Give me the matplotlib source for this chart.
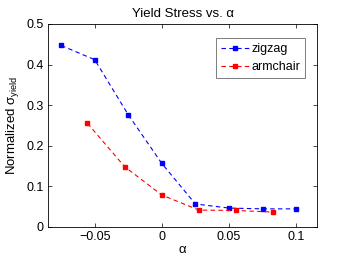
import matplotlib
matplotlib.use("Agg")
import matplotlib.pyplot as plt

plt.rcParams['font.family'] = ['Liberation Sans', 'DejaVu Sans']
plt.rcParams['mathtext.fontset'] = 'custom'
plt.rcParams['mathtext.rm'] = 'Liberation Sans'
plt.rcParams['mathtext.it'] = 'Liberation Sans:italic'

zigzag_x = [-0.075, -0.05, -0.025, 0.0, 0.025, 0.05, 0.075, 0.1]
zigzag_y = [0.447, 0.412, 0.276, 0.156, 0.056, 0.046, 0.044, 0.044]
armchair_x = [-0.0554, -0.0277, 0.0, 0.0277, 0.0554, 0.0831]
armchair_y = [0.255, 0.148, 0.078, 0.041, 0.040, 0.036]
xticks = [-0.05, 0, 0.05, 0.1]
xtick_labels = ['\u22120.05', '0', '0.05', '0.1']
yticks = [0, 0.1, 0.2, 0.3, 0.4, 0.5]
ytick_labels = ['0', '0.1', '0.2', '0.3', '0.4', '0.5']

fig = plt.figure(figsize=(3.5, 2.59), dpi=100)
ax = fig.add_axes([48/350, 1-226.7/259, (317-48)/350, (226.7-24)/259])

ax.plot(zigzag_x, zigzag_y, linestyle=(0, (4, 3)), color='#0000ff', lw=0.8,
        marker='s', markersize=3.5, label='zigzag')
ax.plot(armchair_x, armchair_y, linestyle=(0, (4, 3)), color='#ff0000', lw=0.8,
        marker='s', markersize=3.5, label='armchair')

ax.set_xlim(-0.0848, 0.1156)
ax.set_ylim(0, 0.5)
ax.set_xticks(xticks)
ax.set_xticklabels(xtick_labels)
ax.set_yticks(yticks)
ax.set_yticklabels(ytick_labels)
ax.tick_params(direction='in', top=True, right=True, labelsize=9, length=3, width=0.5, pad=3)
for s in ax.spines.values():
    s.set_linewidth(0.6)

ax.set_title('Yield Stress vs. \u03b1', fontsize=9.5, pad=5)
ax.set_xlabel('\u03b1', fontsize=9.5, labelpad=1)
ax.set_ylabel('Normalized \u03c3$_{\\mathrm{yield}}$', fontsize=9.5, labelpad=4)

leg = ax.legend(loc='upper right', bbox_to_anchor=(0.955, 0.929), fontsize=9,
                frameon=True, fancybox=False, edgecolor='#444444',
                handlelength=2.2, handletextpad=0.2, borderpad=0.4,
                labelspacing=0.45, borderaxespad=0)
leg.get_frame().set_linewidth(0.6)

fig.savefig('out.png', dpi=100)
